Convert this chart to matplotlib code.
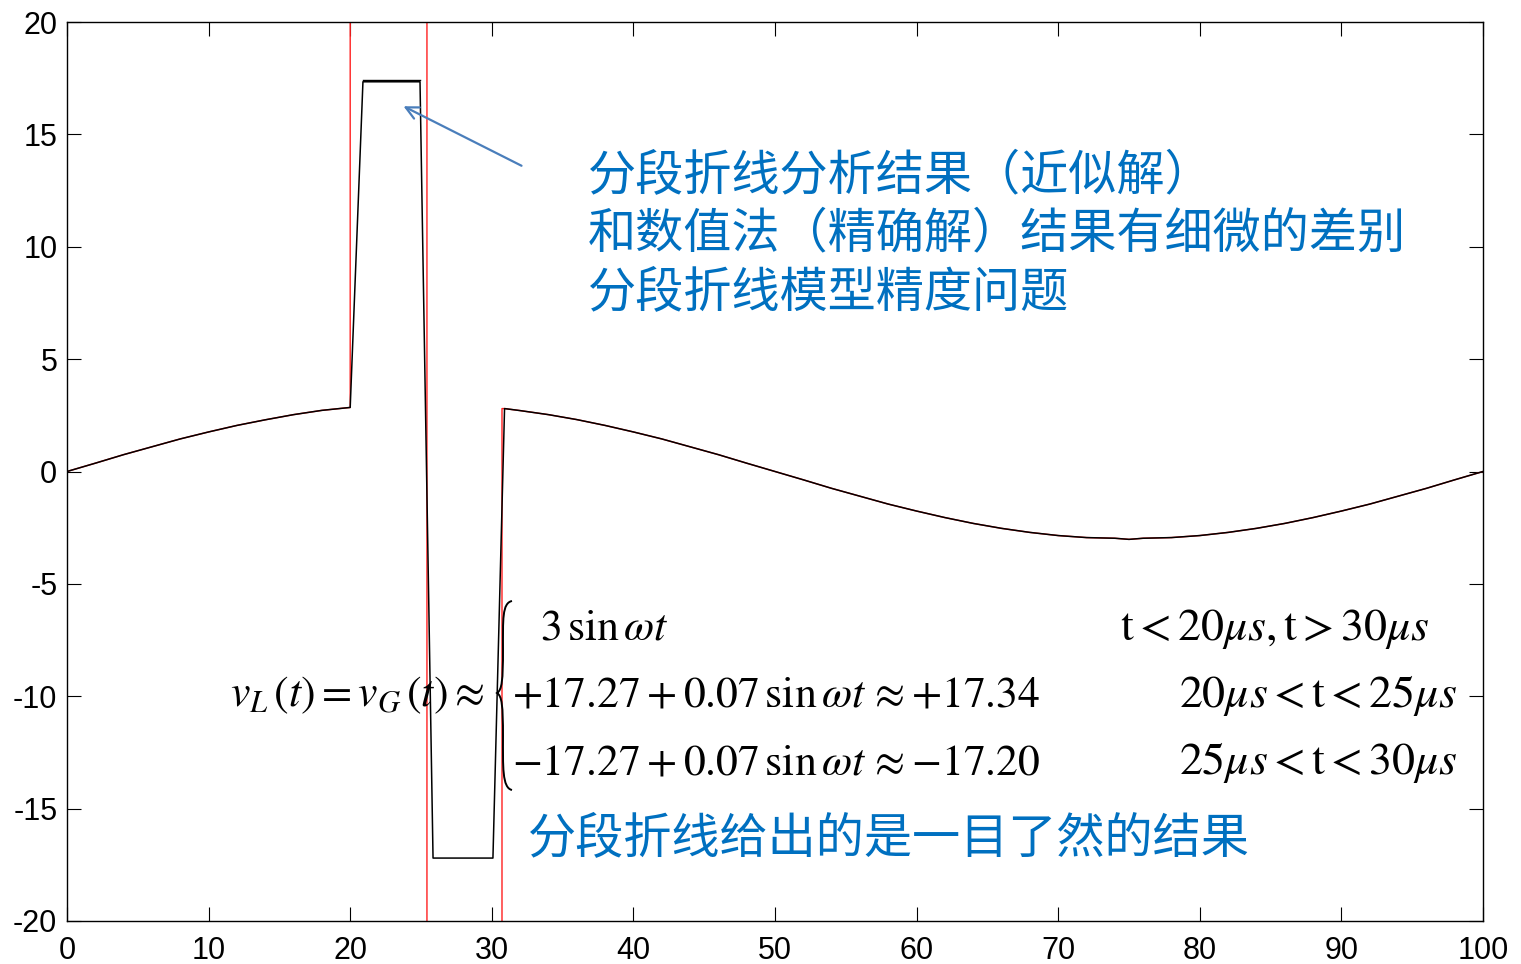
import numpy as np
import matplotlib
matplotlib.use("Agg")
import matplotlib.pyplot as plt
from matplotlib.path import Path
from matplotlib.patches import PathPatch

plt.rcParams['font.family'] = ['Liberation Sans', 'DejaVu Sans']
plt.rcParams['mathtext.fontset'] = 'stix'
plt.rcParams['axes.unicode_minus'] = False

# sinusoidal part, t in us
t_pre = [0, 2, 4, 6, 8, 10, 12, 14, 16, 18, 20]
v_pre = [0.0, 0.37, 0.75, 1.10, 1.45, 1.76, 2.05, 2.30, 2.53, 2.72, 2.85]
t_post = [30.9, 32, 34, 36, 38, 40, 42, 44, 46, 48, 50, 52, 54, 56, 58, 60,
          62, 64, 66, 68, 70, 72, 74, 75, 76, 78, 80, 82, 84, 86, 88, 90,
          92, 94, 96, 98, 100]
v_post = [2.80, 2.71, 2.53, 2.31, 2.05, 1.76, 1.45, 1.10, 0.75, 0.37, 0.0,
          -0.37, -0.75, -1.10, -1.45, -1.76, -2.05, -2.31, -2.53, -2.71,
          -2.85, -2.94, -2.97, -3.02, -2.97, -2.94, -2.85, -2.71, -2.53,
          -2.31, -2.05, -1.76, -1.45, -1.10, -0.75, -0.37, 0.0]

# piecewise-linear result
t_pwl = [20.9, 24.93, 25.85, 30.08]
v_pwl = [17.34, 17.34, -17.20, -17.20]
t_top = [20.9, 24.93]
v_top = [17.42, 17.42]

# numerical result: switching edges run off the plot range
t_num = [20, 20, 25.42, 25.42, 30.72, 30.72]
v_num = [2.85, 40, 40, -40, -40, 2.80]

W, H = 1521, 964
fig = plt.figure(figsize=(W / 100, H / 100), dpi=100)
ax = fig.add_axes([67 / W, 1 - 921 / H, (1483 - 67) / W, (921 - 22) / H])

def fp(x, y):
    return x / W, 1 - y / H

ax.plot(t_pre + t_num + t_post, v_pre + v_num + v_post, color='#ff2020', lw=1.0)
ax.plot(t_pre + t_pwl + t_post, v_pre + v_pwl + v_post, color='black', lw=1.1)
ax.plot(t_top, v_top, color='black', lw=1.0)

ax.set_xlim(0, 100)
ax.set_ylim(-20, 20)
ax.set_xticks(np.arange(0, 101, 10))
ax.set_yticks(np.arange(-20, 21, 5))
ax.tick_params(direction='in', length=10, width=0.8, top=True, right=True,
               labelsize=22, pad=7)
ax.tick_params(axis='x', pad=11)
for s in ax.spines.values():
    s.set_linewidth(1.0)

blue = '#0070c0'
cjk = ['Noto Sans CJK SC', 'DejaVu Sans']
lines = ['分段折线分析结果（近似解）', '和数值法（精确解）结果有细微的差别', '分段折线模型精度问题']
for i, s in enumerate(lines):
    fig.text(*fp(588, 176 + 58 * i), s, color=blue, fontsize=34.7, family=cjk,
             va='center', ha='left')
fig.text(*fp(528, 838), '分段折线给出的是一目了然的结果', color=blue, fontsize=34.7,
         family=cjk, va='center', ha='left')

ax.annotate('', xy=fp(401, 105), xycoords='figure fraction',
            xytext=fp(524, 167), textcoords='figure fraction',
            arrowprops=dict(arrowstyle='->,head_length=0.9,head_width=0.45',
                            color='#4a7ebb', lw=1.6))

# formula
fs = 33
fl = 31.5
fig.text(*fp(484, 706), r'$v_L\,(t)=v_G\,(t)\approx$', fontsize=fl, ha='right', va='baseline')
fig.text(*fp(540, 640), r'$3\,\mathrm{sin}\,\omega t$', fontsize=fl, ha='left', va='baseline')
fig.text(*fp(512, 707), r'$+17.27+0.07\,\mathrm{sin}\,\omega t\,\approx{+}17.34$', fontsize=fl,
         ha='left', va='baseline')
fig.text(*fp(512, 774), r'$-17.27+0.07\,\mathrm{sin}\,\omega t\,\approx{-}17.20$', fontsize=fl,
         ha='left', va='baseline')
fig.text(*fp(1430, 640), r'$\mathrm{t}<20\mu s,\mathrm{t}>30\mu s$', fontsize=fs,
         ha='right', va='baseline')
fig.text(*fp(1458, 707), r'$20\mu s<\mathrm{t}<25\mu s$', fontsize=fs, ha='right', va='baseline')
fig.text(*fp(1458, 774), r'$25\mu s<\mathrm{t}<30\mu s$', fontsize=fs, ha='right', va='baseline')

# curly brace
bx, ym = 497, 693
pts = [fp(512, 601), fp(502, 603), fp(503, 620), fp(503, 650),
       fp(503, 680), fp(502, 690), fp(bx, ym),
       fp(502, 696), fp(503, 706), fp(503, 736),
       fp(503, 766), fp(502, 788), fp(512, 790)]
codes = [Path.MOVETO] + [Path.CURVE4] * 12
fig.patches.append(PathPatch(Path(pts, codes), transform=fig.transFigure,
                             fill=False, lw=1.4, color='black'))

fig.savefig('out.png', dpi=100)
